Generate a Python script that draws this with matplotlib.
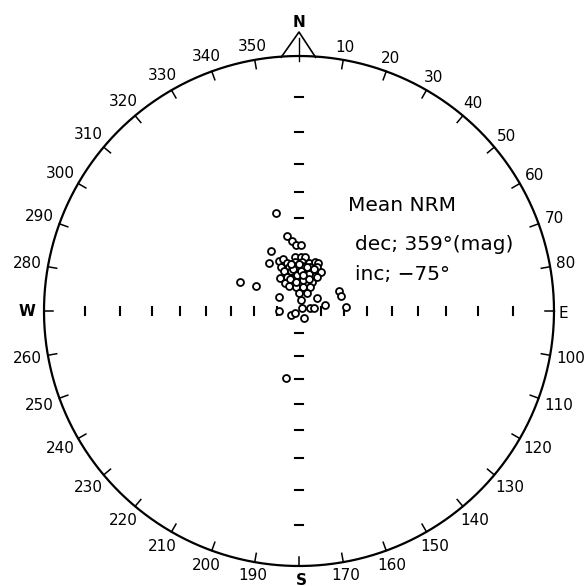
import numpy as np
import matplotlib
matplotlib.use("Agg")
import matplotlib.pyplot as plt

# NRM directions (declination, inclination in degrees), upper hemisphere
dec = [347, 296, 300, 335, 328, 338, 343, 351, 354, 357, 2, 305, 63, 70, 53,
       270, 243, 236, 45, 145, 73, 79, 76, 85, 191,
       356, 2, 6,
       346, 355, 4, 12, 18, 22,
       338, 347, 356, 5, 14, 22,
       339, 348, 359, 9, 18, 29,
       330, 341, 352, 2, 13, 25,
       334, 346, 0, 14, 24,
       337, 353, 10, 25,
       0, 23,
       10,
       352, 5, 15, 357, 8, 345, 20, 0, 10, 350, 3, 17, 354, 6, 28]
inc = [-47, -61, -68, -61, -65, -66, -66, -57, -59, -61, -61, -79, -70, -70, -80,
       -81, -86, -88, -88, -86, -85, -83, -78, -69, -60,
       -66, -66, -66,
       -68, -68, -68, -68, -67, -67,
       -69, -70, -70, -70, -70, -69,
       -71, -72, -73, -72, -72, -70,
       -73, -74, -75, -75, -74, -73,
       -76, -77, -77, -77, -76,
       -78, -79, -79, -78,
       -82, -81,
       -85,
       -71, -71, -73, -74, -76, -75, -70, -69, -70, -69, -72, -75, -77, -74, -73]

ring_labels = [a for a in range(10, 360, 10) if a not in (90, 180, 270)]
axis_incs = [10, 20, 30, 40, 50, 60, 70, 80]

plt.rcParams["font.family"] = "DejaVu Sans"
fig = plt.figure(figsize=(5.84, 5.86), dpi=100)
ax = fig.add_axes([0, 0, 1, 1])
ax.set_xlim(-299 / 255, 285 / 255)
ax.set_ylim(-275 / 255, 311 / 255)
ax.set_aspect("equal")
ax.axis("off")


def wulff(d, i):
    r = np.tan(np.radians(90 - np.abs(np.asarray(i, float))) / 2)
    d = np.radians(np.asarray(d, float))
    return r * np.sin(d), r * np.cos(d)


# primitive circle
t = np.linspace(0, 2 * np.pi, 400)
ax.plot(np.cos(t), np.sin(t), color="black", lw=1.6)

# ticks and labels around the circle
for a in range(10, 360, 10):
    s, c = np.sin(np.radians(a)), np.cos(np.radians(a))
    ax.plot([s, 0.965 * s], [c, 0.965 * c], color="black", lw=1.1)
for a in ring_labels:
    s, c = np.sin(np.radians(a)), np.cos(np.radians(a))
    w = len(str(a)) * 0.039
    r = 1.02 + abs(s) * w / 2 + abs(c) * 0.022
    ax.text(r * s, r * c, str(a), ha="center", va="center", fontsize=11)

# cross with inclination ticks
for i in axis_incs:
    r = np.tan(np.radians(90 - i) / 2)
    for sgn in (-1, 1):
        ax.plot([sgn * r, sgn * r], [-0.014, 0.014], color="black", lw=1.5)
        ax.plot([-0.016, 0.016], [sgn * r, sgn * r], color="black", lw=1.5)

# north arrow
ax.plot([-0.07, 0, 0.065], [0.995, 1.094, 0.995], color="black", lw=1.2)
ax.plot([0, 0], [0.98, 1.07], color="black", lw=1.0)

ax.text(0, 1.13, "N", ha="center", va="center", fontsize=11, fontweight="bold")
ax.text(0.01, -1.055, "S", ha="center", va="center", fontsize=11, fontweight="bold")
ax.text(-1.067, 0, "W", ha="center", va="center", fontsize=11, fontweight="bold")
ax.text(1.035, -0.01, "E", ha="center", va="center", fontsize=11)

# data
x, y = wulff(dec, inc)
ax.plot(x, y, "o", ms=5, mfc="white", mec="black", mew=1.3, ls="none")

ax.text(0.192, 0.412, "Mean NRM", ha="left", va="center", fontsize=14.5)
ax.text(0.22, 0.259, "dec; 359°(mag)", ha="left", va="center", fontsize=14.5)
ax.text(0.22, 0.145, "inc; −75°", ha="left", va="center", fontsize=14.5)

fig.savefig("out.png", dpi=100)
